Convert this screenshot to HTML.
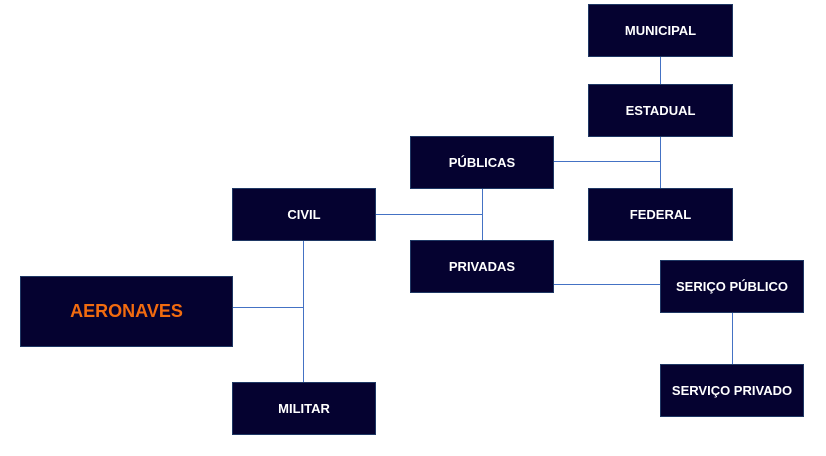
<!DOCTYPE html>
<html><head><meta charset="utf-8"><style>
body{margin:0;width:826px;height:456px;background:#fff;position:relative;overflow:hidden;font-family:"Liberation Sans",sans-serif;}
.b{position:absolute;background:#050230;border:1px solid #1f3864;box-sizing:border-box;color:#fff;font-weight:bold;font-size:13px;display:flex;align-items:center;justify-content:center;}
.l{position:absolute;background:#4472c4;}
</style></head><body>
<div class="l" style="left:660px;top:57px;width:1px;height:27px"></div>
<div class="l" style="left:660px;top:137px;width:1px;height:51px"></div>
<div class="l" style="left:554px;top:161px;width:106px;height:1px"></div>
<div class="l" style="left:376px;top:214px;width:106px;height:1px"></div>
<div class="l" style="left:482px;top:189px;width:1px;height:51px"></div>
<div class="l" style="left:554px;top:284px;width:106px;height:1px"></div>
<div class="l" style="left:732px;top:313px;width:1px;height:51px"></div>
<div class="l" style="left:233px;top:307px;width:71px;height:1px"></div>
<div class="l" style="left:303px;top:241px;width:1px;height:141px"></div>
<div class="b" style="left:588px;top:4px;width:145px;height:53px">MUNICIPAL</div>
<div class="b" style="left:588px;top:84px;width:145px;height:53px">ESTADUAL</div>
<div class="b" style="left:588px;top:188px;width:145px;height:53px">FEDERAL</div>
<div class="b" style="left:410px;top:136px;width:144px;height:53px">PÚBLICAS</div>
<div class="b" style="left:410px;top:240px;width:144px;height:53px">PRIVADAS</div>
<div class="b" style="left:232px;top:188px;width:144px;height:53px">CIVIL</div>
<div class="b" style="left:232px;top:382px;width:144px;height:53px">MILITAR</div>
<div class="b" style="left:20px;top:276px;width:213px;height:71px;color:#f26b0f;font-size:18px">AERONAVES</div>
<div class="b" style="left:660px;top:260px;width:144px;height:53px">SERIÇO PÚBLICO</div>
<div class="b" style="left:660px;top:364px;width:144px;height:53px">SERVIÇO PRIVADO</div>
</body></html>
